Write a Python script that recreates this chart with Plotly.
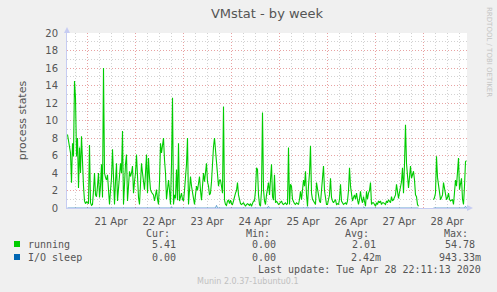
import math
import pandas as pd
import plotly.graph_objects as go

NaN = float("nan")

# ---- data (30-minute samples, starting 2020-04-20 14:00) ----
start_time = "2020-04-20 14:15"
running = [
    8.4, 7.5, 6.8, 6.3, 2.9, 7.4, 5.9, 14.5, 12.6, 5.9,
    8.0, 2.3, 6.9, 4.0, 8.2, 4.0, 2.5, 0.8, 0.5, 0.7,
    0.6, 0.5, 7.2, 0.6, 0.3, 0.4, 2.0, 4.0, 1.5, 1.3,
    2.5, 4.0, 1.2, 2.5, 5.0, 1.2, 16.0, 4.0, 3.5, 3.2,
    3.8, 1.5, 0.4, 2.0, 3.4, 6.7, 2.0, 0.4, 3.0, 5.1,
    0.8, 2.5, 3.6, 5.1, 4.0, 8.8, 0.4, 3.6, 5.0, 6.1,
    0.8, 2.5, 4.2, 3.6, 4.0, 4.8, 1.7, 3.0, 4.0, 6.1,
    2.3, 1.2, 0.4, 2.5, 5.1, 4.0, 3.0, 2.1, 4.0, 6.1,
    1.7, 5.7, 3.5, 2.1, 1.8, 1.7, 1.5, 0.8, 1.5, 2.1,
    1.0, 0.4, 3.0, 7.4, 6.3, 7.0, 8.0, 5.5, 4.0, 1.0,
    2.0, 3.2, 2.0, 0.4, 5.0, 12.6, 0.4, 1.5, 1.1, 4.4,
    0.9, 7.4, 0.8, 1.5, 1.7, 1.0, 0.8, 2.0, 3.2, 5.0,
    8.0, 0.4, 2.0, 3.6, 2.5, 1.9, 1.0, 0.4, 1.5, 2.5,
    2.0, 3.0, 3.6, 2.0, 0.9, 2.5, 4.0, 3.0, 4.5, 5.1,
    3.0, 2.5, 1.5, 1.7, 3.0, 5.9, 7.0, 8.0, 6.7, 4.5,
    3.2, 2.5, 3.2, 3.2, 2.5, 1.7, 11.6, 0.9, 0.4, 0.3,
    0.8, 0.9, 0.5, 0.9, 0.5, 0.4, 0.8, 1.5, 1.7, 2.0,
    2.9, 1.5, 0.8, 0.5, 0.4, 0.5, 0.6, 0.4, 0.2, 0.4,
    0.5, 0.4, 0.3, 0.5, 0.2, 0.5, 0.8, 0.8, 2.0, 4.6,
    4.4, 1.5, 0.4, 0.2, 2.0, 10.9, 2.1, 0.8, 0.4, 1.5,
    2.5, 2.9, 1.5, 3.6, 5.0, 1.3, 0.9, 3.8, 0.6, 0.8,
    0.5, 0.4, 0.5, 0.6, 0.8, 0.5, 0.4, 0.5, 0.6, 0.4,
    0.5, 6.9, 0.4, 2.7, 2.5, 1.0, 0.6, 0.5, 0.4, 0.6,
    0.5, 0.4, 1.0, 1.9, 0.95, 2.0, 3.2, 2.5, 4.2, 1.5,
    0.2, 2.5, 4.0, 7.1, 1.7, 1.0, 0.8, 0.5, 0.4, 2.9,
    2.0, 1.3, 0.8, 0.6, 1.9, 3.0, 4.8, 2.0, 0.95, 0.4,
    0.4, 0.8, 1.5, 3.4, 1.2, 0.8, 0.6, 0.8, 0.95, 0.4,
    0.5, 0.4, 1.0, 2.7, 0.8, 0.6, 0.4, 0.5, 0.6, 0.4,
    0.8, 2.0, 4.6, 2.5, 1.7, 0.8, 1.2, 1.5, 1.0, 1.7,
    0.95, 0.4, 1.0, 1.9, 1.0, 0.6, 1.3, 0.8, 0.2, 1.9,
    1.0, 1.7, 2.0, 2.9, 0.4, 0.6, 0.6, 0.4, 0.2, 0.6,
    0.4, 0.8, 0.6, 0.8, 0.4, 0.6, 0.6, 0.5, 0.4, 0.8,
    0.6, 0.95, 0.8, 0.6, 1.3, 0.8, 0.95, 1.2, 1.5, 2.7,
    1.5, 1.1, 1.8, 2.5, 3.0, 4.6, 1.7, 5.0, 9.5, 5.1,
    3.0, 2.3, 3.5, 4.8, 3.4, 4.0, 4.2, 3.2, 1.5, 1.3,
    0.4, 0.2,
    NaN, NaN, NaN, NaN, NaN, NaN, NaN, NaN, NaN, NaN, NaN, NaN, NaN, NaN,
    0.95, 1.2, 1.7, 5.9,
    3.5, 2.7, 1.5, 0.95, 1.2, 1.5, 2.9, 2.2, 1.7, 0.95,
    1.2, 1.7, 1.0, 0.8, 0.9, 0.95, 0.4, 1.5, 3.2, 2.5,
    4.0, 5.7, 2.1, 3.0, 3.4, 1.0, 0.4, 2.5, 5.3, 5.41,
]
io_blips = {104: 0.15, 149: 0.3, 201: 0.2, 240: 0.15, 296: 0.1, 398: 0.2}
io_sleep = [NaN if math.isnan(v) else io_blips.get(i, 0.0) for i, v in enumerate(running)]

legend_names = ["running", "I/O sleep"]
legend_colors = ["#00cc00", "#0066b3"]
cur_vals = ["5.41", "0.00"]
min_vals = ["0.00", "0.00"]
avg_vals = ["2.01", "2.42m"]
max_vals = ["54.78", "943.33m"]

times = pd.date_range(start_time, periods=len(running), freq="30min")
x_range = ["2020-04-20 14:00", "2020-04-28 22:00"]

fig = go.Figure()
fig.add_trace(go.Scatter(x=times, y=running, mode="lines",
                         line=dict(color=legend_colors[0], width=1.1),
                         connectgaps=False, showlegend=False, hoverinfo="skip"))
fig.add_trace(go.Scatter(x=times, y=io_sleep, mode="lines",
                         line=dict(color=legend_colors[1], width=1),
                         opacity=0.6, cliponaxis=False,
                         connectgaps=False, showlegend=False, hoverinfo="skip"))

tick_font = dict(family="DejaVu Sans", size=10, color="#555555")
major_grid = "#e8a2a2"
minor_grid = "#d2d2d2"

fig.update_layout(
    width=497, height=292,
    margin=dict(l=67, r=30, t=33, b=84),
    paper_bgcolor="#f0f0f0", plot_bgcolor="#ffffff",
    title=dict(text="VMstat - by week", x=0.5, xref="paper", xanchor="center",
               y=1 - 13 / 292, yref="container", yanchor="middle",
               font=dict(family="DejaVu Sans", size=13, color="#555555")),
    xaxis=dict(type="date", range=x_range, tick0="2020-04-21", dtick=86400000,
               ticklabelmode="period", tickformat="%d %b",
               showgrid=True, gridcolor=major_grid, griddash="1px,2px", gridwidth=1,
               minor=dict(dtick=6 * 3600 * 1000, tick0="2020-04-21", showgrid=True,
                          gridcolor=minor_grid, griddash="1px,2px", ticks=""),
               ticks="outside", ticklen=4, tickcolor="rgba(0,0,0,0)",
               tickfont=tick_font, showline=True, linecolor="#c6ccf2",
               linewidth=1, zeroline=False, fixedrange=True, layer="below traces"),
    yaxis=dict(range=[0, 20], dtick=2, tick0=0, showgrid=True, gridcolor=major_grid,
               griddash="1px,2px",
               minor=dict(dtick=1, showgrid=True, gridcolor=minor_grid, griddash="1px,2px"),
               ticks="", tickfont=tick_font, showline=True, linecolor="#c6ccf2",
               linewidth=1, zeroline=False, ticklabelstandoff=6, layer="below traces",
               title=dict(text="process states", standoff=16,
                          font=dict(family="DejaVu Sans", size=11, color="#555555"))),
)

# axis arrows
w, h = 400.0, 175.0
fig.add_shape(type="path", xref="paper", yref="paper",
              path=f"M {-3/w} 1 L {3/w} 1 L 0 {1+6/h} Z",
              fillcolor="#c6ccf2", line=dict(width=0))
fig.add_shape(type="path", xref="paper", yref="paper",
              path=f"M 1 {-3/h} L 1 {3/h} L {1+6/w} 0 Z",
              fillcolor="#c6ccf2", line=dict(width=0))

def px_to_paper_x(px):
    return (px - 67) / w

def px_to_paper_y(py):
    return (208 - py) / h

mono = dict(family="DejaVu Sans Mono", size=10, color="#555555")

# legend headers
for label, right in [("Cur:", 172), ("Min:", 272), ("Avg:", 371), ("Max:", 470)]:
    fig.add_annotation(text=label, xref="paper", yref="paper",
                       x=px_to_paper_x(right), y=px_to_paper_y(233),
                       xanchor="right", yanchor="middle", showarrow=False, font=mono)

rows_y = [244, 257]
for k in range(2):
    yy = rows_y[k]
    fig.add_shape(type="rect", xref="paper", yref="paper",
                  x0=px_to_paper_x(14), x1=px_to_paper_x(20),
                  y0=px_to_paper_y(yy + 3), y1=px_to_paper_y(yy - 3),
                  fillcolor=legend_colors[k], line=dict(width=0))
    fig.add_annotation(text=legend_names[k], xref="paper", yref="paper",
                       x=px_to_paper_x(26), y=px_to_paper_y(yy),
                       xanchor="left", yanchor="middle", showarrow=False, font=mono)
    for vals, right in [(cur_vals, 178), (min_vals, 278), (avg_vals, 383 if avg_vals[k].endswith("m") else 378),
                        (max_vals, 483 if max_vals[k].endswith("m") else 477)]:
        fig.add_annotation(text=vals[k], xref="paper", yref="paper",
                           x=px_to_paper_x(right), y=px_to_paper_y(yy),
                           xanchor="right", yanchor="middle", showarrow=False, font=mono)

fig.add_annotation(text="Last update: Tue Apr 28 22:11:13 2020", xref="paper", yref="paper",
                   x=px_to_paper_x(483), y=px_to_paper_y(269),
                   xanchor="right", yanchor="middle", showarrow=False, font=mono)
fig.add_annotation(text="Munin 2.0.37-1ubuntu0.1", xref="paper", yref="paper",
                   x=px_to_paper_x(248), y=px_to_paper_y(281),
                   xanchor="center", yanchor="middle", showarrow=False,
                   font=dict(family="DejaVu Sans", size=8, color="#c0c0c0"))
fig.add_annotation(text="RRDTOOL / TOBI OETIKER", xref="paper", yref="paper",
                   x=px_to_paper_x(489), y=px_to_paper_y(5),
                   xanchor="center", yanchor="top", textangle=90, showarrow=False,
                   font=dict(family="DejaVu Sans", size=7, color="#c4c4c4"))

fig.write_html("out.html")
